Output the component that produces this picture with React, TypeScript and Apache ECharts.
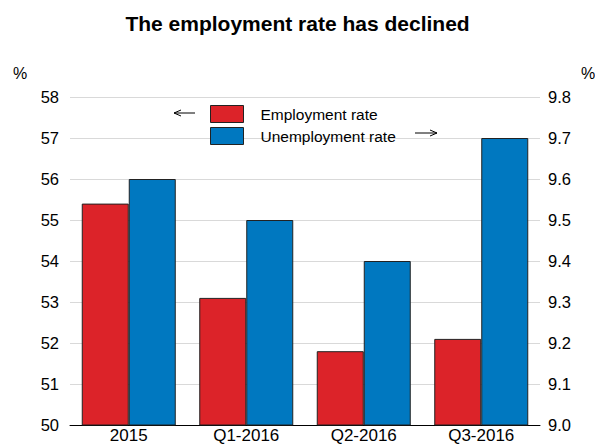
import React, { useEffect, useRef } from "react";
import * as echarts from "echarts";

const categories = ["2015", "Q1-2016", "Q2-2016", "Q3-2016"];
const employmentRate = [55.4, 53.1, 51.8, 52.1];
const unemploymentRate = [9.6, 9.5, 9.4, 9.7];
const leftTicks = { min: 50, max: 58, interval: 1 };
const rightTicks = { min: 9.0, max: 9.8, interval: 0.1 };

const FONT = "Liberation Sans, Arial, sans-serif";

export default function App() {
  const ref = useRef<HTMLDivElement>(null);
  useEffect(() => {
    const chart = echarts.init(ref.current!, null, { renderer: "svg" });
    const arrowStyle = { stroke: "#000", lineWidth: 1, fill: "none" };
    chart.setOption({
      animation: false,
      backgroundColor: "#fff",
      title: {
        text: "The employment rate has declined",
        left: "center",
        top: 8,
        textStyle: { fontFamily: FONT, fontSize: 21, fontWeight: "bold", color: "#000" },
      },
      legend: {
        orient: "vertical",
        left: 210,
        top: 105,
        padding: 0,
        itemWidth: 33,
        itemHeight: 17,
        itemGap: 4,
        icon: "rect",
        itemStyle: { borderColor: "#222", borderWidth: 1 },
        textStyle: { fontFamily: FONT, fontSize: 15.5, color: "#000", padding: [0, 0, 0, 12] },
        data: ["Employment rate", "Unemployment rate"],
      },
      grid: { left: 70, right: 55, top: 97, bottom: 19, containLabel: false },
      xAxis: {
        type: "category",
        data: categories,
        axisLine: { show: true, lineStyle: { color: "#000", width: 1 } },
        axisTick: { show: false },
        axisLabel: { fontFamily: FONT, fontSize: 17, color: "#000", margin: 2 },
      },
      yAxis: [
        {
          type: "value",
          min: leftTicks.min,
          max: leftTicks.max,
          interval: leftTicks.interval,
          axisLine: { show: false },
          axisTick: { show: false },
          axisLabel: { fontFamily: FONT, fontSize: 16.5, color: "#000", margin: 11 },
          splitLine: { show: true, lineStyle: { color: "#d9d9d9", width: 1 } },
        },
        {
          type: "value",
          min: rightTicks.min,
          max: rightTicks.max,
          interval: rightTicks.interval,
          axisLine: { show: false },
          axisTick: { show: false },
          axisLabel: {
            fontFamily: FONT,
            fontSize: 16.5,
            color: "#000",
            margin: 8,
            formatter: (v: number) => v.toFixed(1),
          },
          splitLine: { show: false },
        },
      ],
      series: [
        {
          name: "Employment rate",
          type: "bar",
          yAxisIndex: 0,
          data: employmentRate,
          barGap: "0%",
          barCategoryGap: "20%",
          itemStyle: { color: "#dc2329", borderColor: "#222", borderWidth: 1 },
        },
        {
          name: "Unemployment rate",
          type: "bar",
          yAxisIndex: 1,
          data: unemploymentRate,
          barGap: "0%",
          barCategoryGap: "20%",
          itemStyle: { color: "#0078c0", borderColor: "#222", borderWidth: 1 },
        },
      ],
      graphic: [
        {
          type: "text",
          left: 13,
          top: 65,
          style: { text: "%", fontFamily: FONT, fontSize: 16, fill: "#000" },
        },
        {
          type: "text",
          left: 581,
          top: 65,
          style: { text: "%", fontFamily: FONT, fontSize: 16, fill: "#000" },
        },
        { type: "line", shape: { x1: 174, y1: 113, x2: 195, y2: 113 }, style: arrowStyle },
        { type: "polyline", shape: { points: [[181, 110], [174, 113], [181, 116]] }, style: arrowStyle },
        { type: "line", shape: { x1: 415, y1: 133, x2: 437, y2: 133 }, style: arrowStyle },
        { type: "polyline", shape: { points: [[430, 130], [437, 133], [430, 136]] }, style: arrowStyle },
      ],
    });
    return () => chart.dispose();
  }, []);
  return (
    <div
      ref={ref}
      style={{ position: "fixed", left: 0, top: 0, width: 595, height: 444 }}
    />
  );
}
